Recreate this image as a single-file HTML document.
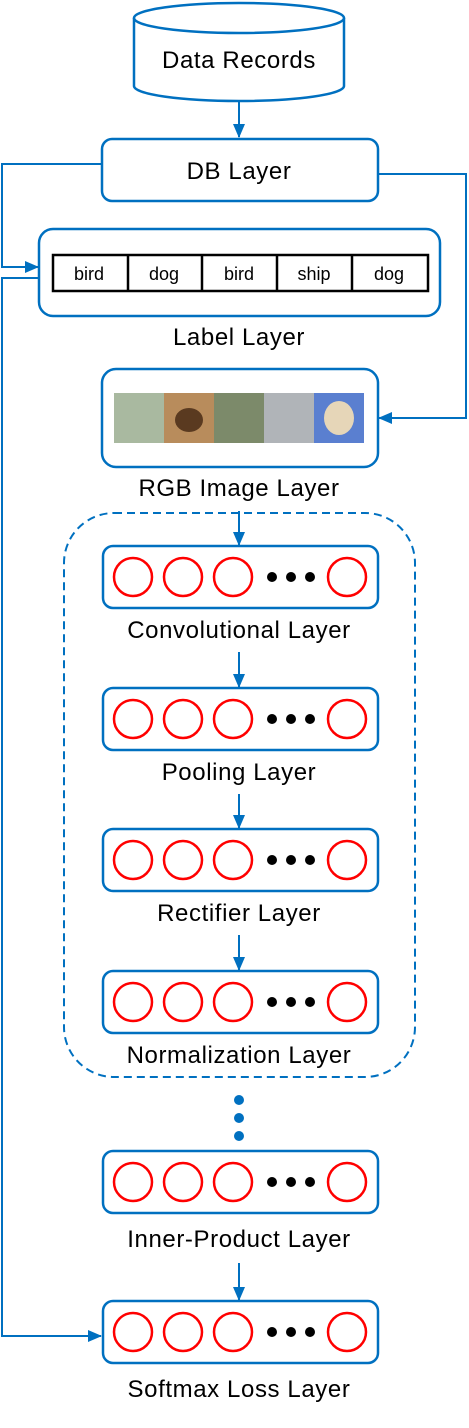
<!DOCTYPE html>
<html><head><style>
body{margin:0;background:#fff}
svg text{font-family:"Liberation Sans",sans-serif;fill:#000}
.L{font-size:24px;letter-spacing:0.6px}
</style></head><body>
<svg width="469" height="1423" viewBox="0 0 469 1423" xmlns="http://www.w3.org/2000/svg">
<defs>
<marker id="a" markerWidth="14" markerHeight="12" refX="13" refY="6" orient="auto" markerUnits="userSpaceOnUse"><path d="M0,0 L14,6 L0,12z" fill="#0070c0"/></marker>
<g id="n">
<rect x="103" y="0" width="275" height="62" rx="10" fill="#fff" stroke="#0070c0" stroke-width="2.5"/>
<circle cx="133" cy="31" r="19" fill="none" stroke="#f00" stroke-width="2.5"/>
<circle cx="183" cy="31" r="19" fill="none" stroke="#f00" stroke-width="2.5"/>
<circle cx="233" cy="31" r="19" fill="none" stroke="#f00" stroke-width="2.5"/>
<circle cx="272" cy="31" r="5" fill="#000"/><circle cx="291" cy="31" r="5" fill="#000"/><circle cx="310" cy="31" r="5" fill="#000"/>
<circle cx="347" cy="31" r="19" fill="none" stroke="#f00" stroke-width="2.5"/>
</g>
</defs>
<g fill="none" stroke="#0070c0" stroke-width="2">
<path d="M134,18 V86 A105,15 0 0 0 344,86 V18" stroke-width="2.5" fill="#fff"/>
<ellipse cx="239" cy="18" rx="105" ry="15" stroke-width="2.5" fill="#fff"/>
<line x1="239" y1="101" x2="239" y2="137" marker-end="url(#a)"/>
<rect x="102" y="139" width="276" height="62" rx="10" stroke-width="2.5"/>
<rect x="39" y="229" width="401" height="87" rx="14" stroke-width="2.5"/>
<rect x="102" y="369" width="276" height="98" rx="14" stroke-width="2.5"/>
<polyline points="102,164 2,164 2,267 38,267" marker-end="url(#a)"/>
<polyline points="39,278 2,278 2,1336 101,1336" marker-end="url(#a)"/>
<polyline points="378,174 466,174 466,418 379,418" marker-end="url(#a)"/>
<rect x="64" y="513" width="351" height="564" rx="50" stroke-dasharray="8,5"/>
<line x1="239" y1="511" x2="239" y2="545" marker-end="url(#a)"/>
<line x1="239" y1="652" x2="239" y2="687" marker-end="url(#a)"/>
<line x1="239" y1="794" x2="239" y2="828" marker-end="url(#a)"/>
<line x1="239" y1="935" x2="239" y2="970" marker-end="url(#a)"/>
<line x1="239" y1="1263" x2="239" y2="1300" marker-end="url(#a)"/>
</g>
<g fill="#0070c0"><circle cx="239" cy="1100" r="5"/><circle cx="239" cy="1118" r="5"/><circle cx="239" cy="1136" r="5"/></g>
<text x="239" y="68" class="L" text-anchor="middle">Data Records</text>
<text x="239" y="179" class="L" text-anchor="middle">DB Layer</text>
<g stroke="#000" stroke-width="2.5" fill="#fff"><rect x="53" y="255" width="375" height="36"/>
<line x1="128" y1="255" x2="128" y2="291"/><line x1="202" y1="255" x2="202" y2="291"/><line x1="277" y1="255" x2="277" y2="291"/><line x1="352" y1="255" x2="352" y2="291"/></g>
<g font-size="18" text-anchor="middle"><text x="89" y="280">bird</text><text x="164" y="280">dog</text><text x="239" y="280">bird</text><text x="314" y="280">ship</text><text x="389" y="280">dog</text></g>
<text x="239" y="345" class="L" text-anchor="middle">Label Layer</text>
<rect x="114" y="393" width="50" height="50" fill="#a9b9a0"/><rect x="164" y="393" width="50" height="50" fill="#b88c5c"/><rect x="214" y="393" width="50" height="50" fill="#7c8a6a"/><rect x="264" y="393" width="50" height="50" fill="#b0b4b8"/><rect x="314" y="393" width="50" height="50" fill="#5a7fd0"/>
<ellipse cx="339" cy="418" rx="15" ry="17" fill="#e6d6b8"/><ellipse cx="189" cy="420" rx="14" ry="12" fill="#5a3a20"/>
<text x="239" y="496" class="L" text-anchor="middle">RGB Image Layer</text>
<use href="#n" y="546"/><text x="239" y="638" class="L" text-anchor="middle">Convolutional Layer</text>
<use href="#n" y="688"/><text x="239" y="780" class="L" text-anchor="middle">Pooling Layer</text>
<use href="#n" y="829"/><text x="239" y="921" class="L" text-anchor="middle">Rectifier Layer</text>
<use href="#n" y="971"/><text x="239" y="1063" class="L" text-anchor="middle">Normalization Layer</text>
<use href="#n" y="1151"/><text x="239" y="1247" class="L" text-anchor="middle">Inner-Product Layer</text>
<use href="#n" y="1301"/><text x="239" y="1397" class="L" text-anchor="middle">Softmax Loss Layer</text>
</svg>
</body></html>
